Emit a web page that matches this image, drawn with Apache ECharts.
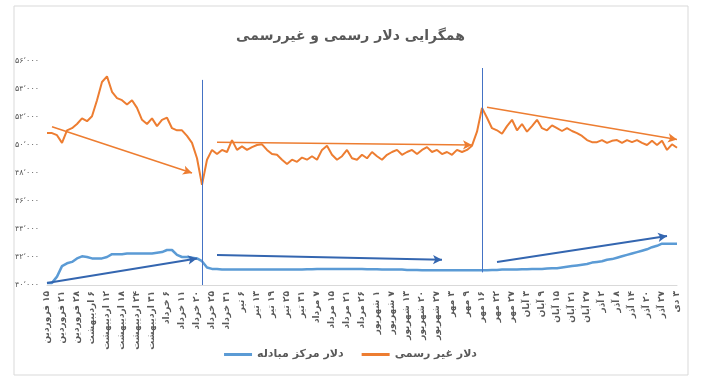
<!DOCTYPE html>
<html><head><meta charset="utf-8">
<script src="https://cdn.jsdelivr.net/npm/echarts@6/dist/echarts.min.js"></script>
<style>html,body{margin:0;padding:0;background:#fff}#c{width:701px;height:385px}</style>
</head><body><div id="c" dir="rtl"></div>
<script>
const tickLabels = [
 '۱۵ فروردین','۲۱ فروردین','۲۸ فروردین','۶ اردیبهشت','۱۲ اردیبهشت','۱۸ اردیبهشت','۲۴ اردیبهشت','۳۱ اردیبهشت',
 '۶ خرداد','۱۱ خرداد','۲۰ خرداد','۲۵ خرداد','۳۱ خرداد','۶ تیر','۱۳ تیر','۱۹ تیر','۲۵ تیر','۳۱ تیر',
 '۷ مرداد','۱۵ مرداد','۲۱ مرداد','۲۶ مرداد','۱ شهریور','۷ شهریور','۱۳ شهریور','۲۰ شهریور','۲۷ شهریور',
 '۳ مهر','۹ مهر','۱۶ مهر','۲۲ مهر','۲۷ مهر','۳ آبان','۹ آبان','۱۵ آبان','۲۱ آبان','۲۷ آبان',
 '۲ آذر','۸ آذر','۱۴ آذر','۲۰ آذر','۲۷ آذر','۳ دی'
];
const pointsPerTick = 3;
const seriesNames = ['دلار مرکز مبادله', 'دلار غیر رسمی'];
const unofficial = [
 50850,50850,50700,50150,51050,51200,51500,51900,51700,52050,
 53200,54500,54900,53800,53350,53200,52900,53200,52650,51800,
 51500,51900,51350,51800,51950,51200,51050,51050,50650,50150,
 49050,47150,48950,49650,49350,49650,49500,50350,49650,49900,
 49650,49850,50000,50050,49650,49350,49300,48950,48650,48950,
 48800,49100,48950,49200,48950,49650,49950,49300,48950,49200,
 49650,49050,48950,49300,49050,49500,49200,48950,49300,49500,
 49650,49300,49500,49650,49350,49650,49850,49500,49650,49350,
 49500,49300,49650,49500,49650,49950,50950,52650,51950,51200,
 51050,50800,51350,51800,51050,51500,50950,51350,51800,51200,
 51050,51400,51200,51000,51200,51000,50850,50650,50350,50200,
 50200,50350,50150,50300,50350,50150,50350,50200,50350,50150,
 50000,50300,50000,50300,49650,50050,49800
];
const official = [
 40150,40150,40600,41350,41550,41650,41900,42050,42000,41900,
 41900,41900,42000,42200,42200,42200,42250,42250,42250,42250,
 42250,42250,42300,42350,42500,42500,42150,42000,42000,41950,
 41900,41700,41250,41150,41150,41100,41100,41100,41100,41100,
 41100,41100,41100,41100,41100,41100,41100,41100,41100,41100,
 41100,41100,41120,41120,41150,41150,41150,41150,41150,41150,
 41150,41150,41150,41150,41120,41120,41120,41100,41100,41100,
 41100,41100,41080,41080,41080,41050,41050,41050,41050,41050,
 41050,41050,41050,41050,41050,41050,41050,41050,41050,41080,
 41080,41100,41100,41100,41100,41120,41120,41150,41150,41150,
 41180,41200,41200,41250,41300,41350,41400,41450,41500,41600,
 41650,41700,41800,41850,41950,42050,42150,42250,42350,42450,
 42550,42700,42800,42950,42950,42950,42950
];
const yMin = 40000, yMax = 56000, yStep = 2000;
// annotation arrows: [[startIndex, startValue],[endIndex, endValue]]
const orangeArrows = [
 [[1,51300],[29,48000]],
 [[34,50200],[85,50000]],
 [[88,52700],[126,50400]]
];
const blueArrows = [
 [[0,40150],[30,41900]],
 [[34,42150],[79,41800]],
 [[90,41650],[124,43500]]
];
const dividers = [[31,40000,54650],[87,40900,55500]];

const faDigits = '۰۱۲۳۴۵۶۷۸۹';
function toFa(n){
  const s = String(n).replace(/\B(?=(\d{3})+(?!\d))/g, '٬');
  return s.replace(/\d/g, d => faDigits[+d]);
}
const categories = official.map((v,i) => i % pointsPerTick === 0 ? tickLabels[i/pointsPerTick] : '');
const FONT = "'DejaVu Sans', sans-serif";
const arrowLines = (arr) => arr.map(a => [{coord:a[0]},{coord:a[1]}]);

const chart = echarts.init(document.getElementById('c'));
chart.setOption({
  animation:false,
  backgroundColor:'#fff',
  title:{text:'همگرایی دلار رسمی و غیررسمی', left:'center', top:24,
    textStyle:{fontFamily:FONT, fontSize:14, fontWeight:'bold', color:'#595959'}},
  legend:{data:seriesNames, bottom:20, left:'center', icon:'rect', itemWidth:28, itemHeight:3, itemGap:18,
    textStyle:{fontFamily:FONT, fontSize:11, fontWeight:'bold', color:'#595959'}},
  grid:{left:47, right:24, top:61, bottom:100},
  xAxis:{type:'category', data:categories, boundaryGap:false,
    axisLine:{lineStyle:{color:'#d9d9d9'}}, axisTick:{show:false},
    axisLabel:{interval:pointsPerTick-1, rotate:90, fontFamily:FONT, fontSize:9, fontWeight:'bold', color:'#595959', margin:6}},
  yAxis:{type:'value', min:yMin, max:yMax, interval:yStep,
    axisLine:{show:false}, axisTick:{show:false}, splitLine:{show:false},
    axisLabel:{formatter:v=>toFa(v), fontFamily:FONT, fontSize:8, color:'#595959', margin:8}},
  series:[
    {name:seriesNames[0], type:'line', data:official, symbol:'none', lineStyle:{color:'#5B9BD5', width:2.5}, itemStyle:{color:'#5B9BD5'}, z:3,
     markLine:{silent:true, symbol:['none','arrow'], symbolSize:[7,9], label:{show:false},
       lineStyle:{color:'#3466B0', width:2, type:'solid'}, data:arrowLines(blueArrows).concat(
         dividers.map(d=>[{coord:[d[0],d[1]], symbol:'none'},{coord:[d[0],d[2]], symbol:'none', lineStyle:{color:'#4472C4', width:1}}]))}},
    {name:seriesNames[1], type:'line', data:unofficial, symbol:'none', lineStyle:{color:'#ED7D31', width:2}, itemStyle:{color:'#ED7D31'}, z:2,
     markLine:{silent:true, symbol:['none','arrow'], symbolSize:[7,9], label:{show:false},
       lineStyle:{color:'#ED7D31', width:1.5, type:'solid'}, data:arrowLines(orangeArrows)}}
  ],
  graphic:[{type:'rect', shape:{x:14, y:6, width:674, height:369}, style:{fill:'none', stroke:'#d9d9d9', lineWidth:1}, silent:true, z:-1}]
});
</script></body></html>
